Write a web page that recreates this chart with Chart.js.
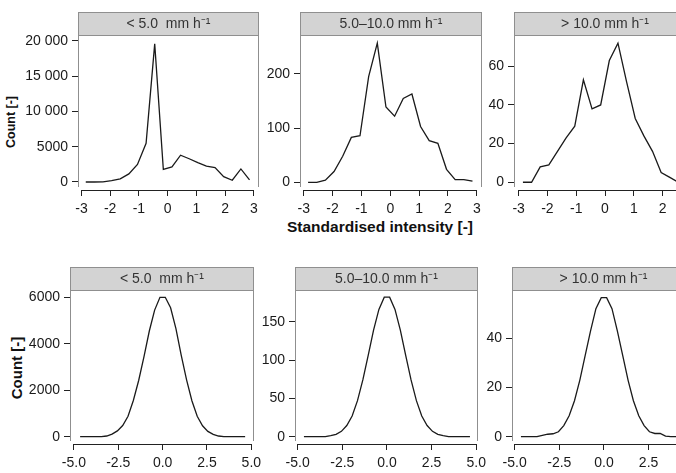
<!DOCTYPE html>
<html><head><meta charset="utf-8">
<script src="https://cdn.jsdelivr.net/npm/chart.js@4.4.1/dist/chart.umd.min.js"></script>
<style>
html,body{margin:0;padding:0;width:676px;height:473px;overflow:hidden;background:#fff;}
.pc{position:absolute;}
.lab{position:absolute;font-family:"Liberation Sans",Arial,sans-serif;font-weight:bold;color:#111;white-space:nowrap;transform:translate(-50%,-50%);}
.rot{transform:translate(-50%,-50%) rotate(-90deg);}
</style></head><body>
<div id="t1" class="lab rot" style="left:11px;top:122px;font-size:12.5px;">Count [-]</div>
<div id="t2" class="lab rot" style="left:16px;top:368px;font-size:15px;">Count [-]</div>
<div id="t3" class="lab" style="left:380px;top:227px;font-size:15.5px;">Standardised intensity [-]</div>
<script>
// ---------- data ----------
const stripLabels = ['< 5.0  mm h\u207B\u00B9', '5.0\u201310.0 mm h\u207B\u00B9', '> 10.0 mm h\u207B\u00B9'];

const topBins = [-2.85,-2.55,-2.25,-1.95,-1.65,-1.35,-1.05,-0.75,-0.45,-0.15,0.15,0.45,0.75,1.05,1.35,1.65,1.95,2.25,2.55,2.85];
const topCountLow  = [0,0,30,200,450,1150,2500,5500,19600,1800,2150,3800,3300,2750,2250,2050,750,250,1850,300];
const topCountMid  = [0,0,4,20,48,83,86,195,257,139,122,155,163,103,77,72,24,5,5,2];
const topCountHigh = [0,0,8,9,16,23,29,53,38,40,63,72,52,33,24,16,5,2.5,0,0];

const bottomBins = [-4.65,-4.35,-4.05,-3.75,-3.45,-3.15,-2.85,-2.55,-2.25,-1.95,-1.65,-1.35,-1.05,-0.75,-0.45,-0.15,
                    0.15,0.45,0.75,1.05,1.35,1.65,1.95,2.25,2.55,2.85,3.15,3.45,3.75,4.05,4.35,4.65];
const bottomCountLow  = [0,0,0,0,0,30,110,250,480,880,1560,2420,3450,4550,5450,6000,
                         6000,5550,4650,3500,2450,1550,880,470,230,100,30,0,0,0,0,0];
const bottomCountMid  = [0,0,0,0,0,1.3,3,7,14.6,27,47,74,106,139,166,182,
                         182,166,139,106,74,47,27,14.6,7,3,1.3,0,0,0,0,0];
const bottomCountHigh = [0,0,0,0,0.5,1,1.2,2,4.5,8.5,14.6,23,33,43,52,56.5,
                         56.5,52,43,33,23,14.6,8.5,4.5,2,1.3,1.3,0.2,0,0,0,0];

const topXTicks = [-3,-2,-1,0,1,2,3];
const bottomXTicks = [-5,-2.5,0,2.5,5];
const yTicksTopLow = [0,5000,10000,15000,20000];
const yTicksTopMid = [0,100,200];
const yTicksTopHigh = [0,20,40,60];
const yTicksBotLow = [0,2000,4000,6000];
const yTicksBotMid = [0,50,100,150];
const yTicksBotHigh = [0,20,40];

// ---------- layout (positions / ranges) ----------
const FONT = '"Liberation Sans", Arial, sans-serif';
const YW = 70, XH = 40, PR = 20, SH = 23;
const panels = [
  {bins: topBins, counts: topCountLow,  strip: 0, xt: topXTicks, yt: yTicksTopLow,  left: 78,  right: 259, top: 35,  axis: 190, xmin: -3.12, xmax: 3.18, ymin: -1135, ymax: 20851, fmt: 0},
  {bins: topBins, counts: topCountMid,  strip: 1, xt: topXTicks, yt: yTicksTopMid,  left: 300, right: 482, top: 35,  axis: 190, xmin: -3.13, xmax: 3.18, ymin: -14.2, ymax: 272, fmt: 0},
  {bins: topBins, counts: topCountHigh, strip: 2, xt: topXTicks, yt: yTicksTopHigh, left: 514, right: 696, top: 35,  axis: 190, xmin: -3.16, xmax: 3.16, ymin: -4.0, ymax: 76.2, fmt: 0},
  {bins: bottomBins, counts: bottomCountLow,  strip: 0, xt: bottomXTicks, yt: yTicksBotLow,  left: 70,  right: 254, top: 290, axis: 444, xmin: -5.22, xmax: 5.15, ymin: -314, ymax: 6315, fmt: 1},
  {bins: bottomBins, counts: bottomCountMid,  strip: 1, xt: bottomXTicks, yt: yTicksBotMid,  left: 295, right: 478, top: 290, axis: 444, xmin: -5.15, xmax: 5.10, ymin: -9.5, ymax: 191.3, fmt: 1},
  {bins: bottomBins, counts: bottomCountHigh, strip: 2, xt: bottomXTicks, yt: yTicksBotHigh, left: 512, right: 695, top: 290, axis: 444, xmin: -5.15, xmax: 5.10, ymin: -2.97, ymax: 59.6, fmt: 1}
];

const fmtY = v => v >= 10000 ? String(v).replace(/(\d)(?=\d{3}$)/, '$1 ') : String(v);

const panelPlugin = {
  id: 'panelDeco',
  beforeDraw(chart) {
    const {ctx, chartArea: a} = chart;
    ctx.save();
    ctx.fillStyle = '#d3d3d3';
    ctx.fillRect(a.left, a.top - SH, a.right - a.left, SH);
    ctx.strokeStyle = '#8f8f8f';
    ctx.lineWidth = 1;
    ctx.strokeRect(a.left + 0.5, a.top - SH + 0.5, a.right - a.left - 1, SH);
    ctx.beginPath();
    ctx.moveTo(a.left + 0.5, a.top); ctx.lineTo(a.left + 0.5, a.bottom - 3);
    ctx.moveTo(a.right - 0.5, a.top); ctx.lineTo(a.right - 0.5, a.bottom - 3);
    ctx.stroke();
    ctx.restore();
  },
  afterDraw(chart) {
    const {ctx, chartArea: a} = chart;
    const xs = chart.scales.x;
    const t = chart.options.plugins.panelDeco.ticks;
    ctx.save();
    ctx.strokeStyle = '#222';
    ctx.lineWidth = 1;
    ctx.beginPath();
    ctx.moveTo(xs.getPixelForValue(t[0]), a.bottom + 0.5);
    ctx.lineTo(xs.getPixelForValue(t[t.length - 1]), a.bottom + 0.5);
    ctx.stroke();
    ctx.restore();
  }
};

panels.forEach(p => {
  const w = YW + (p.right - p.left) + PR;
  const h = SH + (p.axis - p.top) + XH;
  const div = document.createElement('div');
  div.className = 'pc';
  div.style.left = (p.left - YW) + 'px';
  div.style.top = (p.top - SH) + 'px';
  const cv = document.createElement('canvas');
  cv.width = w; cv.height = h;
  cv.style.width = w + 'px'; cv.style.height = h + 'px';
  div.appendChild(cv);
  document.body.appendChild(div);
  new Chart(cv, {
    type: 'line',
    data: {
      datasets: [{
        data: p.bins.map((x, i) => ({x: x, y: p.counts[i]})),
        borderColor: '#1a1a1a', borderWidth: 1.3, pointRadius: 0, tension: 0, fill: false
      }]
    },
    options: {
      responsive: false, animation: false,
      layout: {padding: {top: 0, left: 0, right: PR, bottom: 0}},
      plugins: {
        legend: {display: false}, tooltip: {enabled: false},
        title: {display: true, text: stripLabels[p.strip], fullSize: false, color: '#333',
                font: {family: FONT, size: 14, weight: 'normal'}, padding: {top: 3.4, bottom: 2.8}},
        panelDeco: {ticks: p.xt}
      },
      scales: {
        x: {
          type: 'linear', min: p.xmin, max: p.xmax,
          afterBuildTicks: s => { s.ticks = p.xt.map(v => ({value: v})); },
          afterFit: s => { s.height = XH; },
          ticks: {autoSkip: false, maxRotation: 0, padding: 5, color: '#1a1a1a', font: {family: FONT, size: 14},
                  callback: v => p.fmt ? Number(v).toFixed(1) : String(v)},
          grid: {display: true, drawOnChartArea: false, drawTicks: true, tickLength: 6, color: '#222'},
          border: {display: false}
        },
        y: {
          type: 'linear', min: p.ymin, max: p.ymax,
          afterBuildTicks: s => { s.ticks = p.yt.map(v => ({value: v})); },
          afterFit: s => { s.width = YW; },
          ticks: {autoSkip: false, padding: 4, color: '#1a1a1a', font: {family: FONT, size: 14}, callback: v => fmtY(v)},
          grid: {display: true, drawOnChartArea: false, drawTicks: true, tickLength: 6, color: '#222'},
          border: {display: false}
        }
      }
    },
    plugins: [panelPlugin]
  });
});
</script>
</body></html>
